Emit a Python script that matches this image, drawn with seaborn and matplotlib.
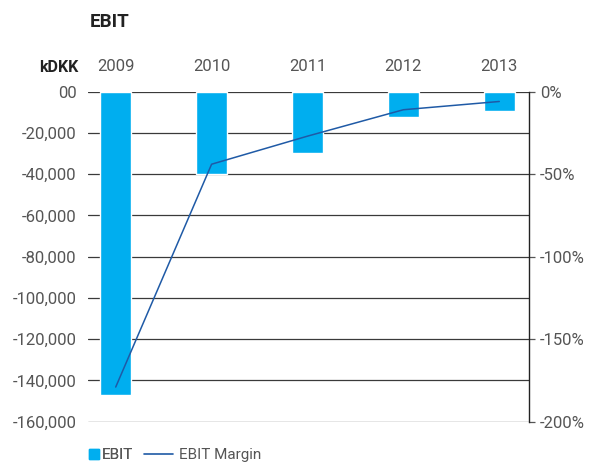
import numpy as np
import pandas as pd
import matplotlib
matplotlib.use("Agg")
import matplotlib.pyplot as plt
from matplotlib.lines import Line2D
import seaborn as sns

# data
years = ["2009", "2010", "2011", "2012", "2013"]
ebit = [-147200, -40100, -29800, -12400, -9200]      # kDKK
ebit_margin = [-179, -44, -27, -11, -6]              # percent
left_ticks = [0, -20000, -40000, -60000, -80000, -100000, -120000, -140000, -160000]
left_labels = ["00", "-20,000", "-40,000", "-60,000", "-80,000", "-100,000",
               "-120,000", "-140,000", "-160,000"]
right_ticks = [0, -50, -100, -150, -200]
right_labels = ["0%", "-50%", "-100%", "-150%", "-200%"]

bar_color = "#00AEEF"
line_color = "#1F5AA6"
text_color = "#555555"
grid_color = "#3a3a3a"

sns.set_style("white")
plt.rcParams["font.family"] = ["Roboto", "DejaVu Sans"]

df = pd.DataFrame({"year": years, "ebit": ebit, "margin": ebit_margin})

fig = plt.figure(figsize=(5.9, 4.63), dpi=100)
ax = fig.add_axes([0.149, 0.0892, 0.7476, 0.713])

# horizontal rules behind the bars
for t in left_ticks:
    ax.axhline(t, color=grid_color, lw=0.9, zorder=0)

sns.barplot(data=df, x="year", y="ebit", color=bar_color, width=0.32,
            saturation=1, ax=ax, zorder=2)
ax.set_xlim(-0.29, 4.31)
ax.set_ylim(-160000, 0)
ax.set_yticks(left_ticks)
ax.set_yticklabels(left_labels)
ax.set_xlabel("")
ax.set_ylabel("")
ax.xaxis.tick_top()
ax.tick_params(axis="x", length=0, pad=13, labelsize=12, colors=text_color)
ax.tick_params(axis="y", length=0, pad=8, labelsize=12, colors=text_color)
for s in ax.spines.values():
    s.set_visible(False)

ax2 = ax.twinx()
sns.lineplot(x=np.arange(len(years)), y=df["margin"], color=line_color,
             lw=1.1, ax=ax2)
ax2.set_ylim(-200, 0)
ax2.set_yticks(right_ticks)
ax2.set_yticklabels(right_labels)
ax2.set_ylabel("")
ax2.tick_params(axis="y", length=4, width=0.9, pad=4, labelsize=12,
                colors=text_color)
for k in ["top", "bottom", "left"]:
    ax2.spines[k].set_visible(False)
ax2.spines["right"].set_color("#222222")
ax2.spines["right"].set_linewidth(1.0)

fig.text(90 / 590, 1 - 22 / 463, "EBIT", fontsize=13.5, fontweight="bold",
         color="#222222", va="center", ha="left")
fig.text(78 / 590, 1 - 67 / 463, "kDKK", fontsize=11.5, fontweight="bold",
         color="#222222", va="center", ha="right")

# two small legends so the square and the line get their own handle lengths
leg1 = fig.legend([Line2D([], [], marker="s", color=bar_color, linestyle="none",
                          markersize=6.5)], ["EBIT"],
                  loc="center left", bbox_to_anchor=(80 / 590, 1 - 455 / 463),
                  frameon=False, fontsize=11, handlelength=0.8,
                  handletextpad=0.15, borderpad=0, labelcolor=text_color)
fig.legend([Line2D([], [], color=line_color, lw=1.2)], ["EBIT Margin"],
           loc="center left", bbox_to_anchor=(136 / 590, 1 - 455 / 463),
           frameon=False, fontsize=11, handlelength=1.9,
           handletextpad=0.4, borderpad=0, labelcolor=text_color)
fig.add_artist(leg1)

fig.savefig("out.png", dpi=100)
